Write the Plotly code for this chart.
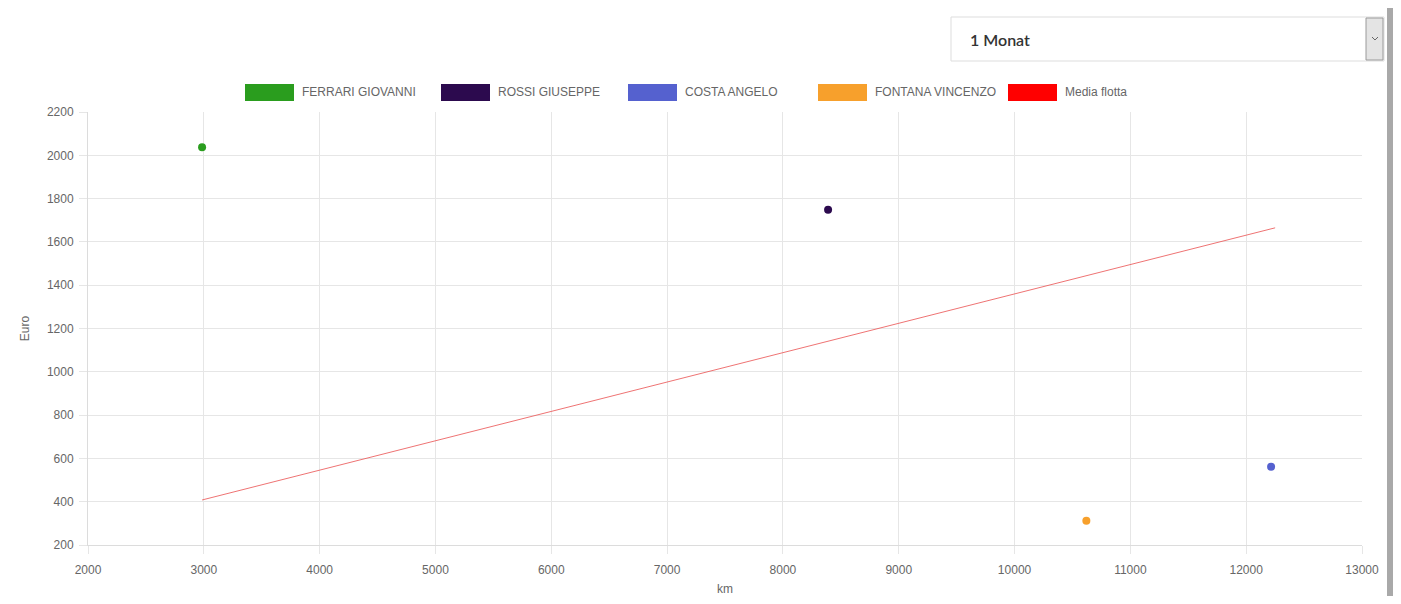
import plotly.graph_objects as go

drivers = ["FERRARI GIOVANNI", "ROSSI GIUSEPPE", "COSTA ANGELO", "FONTANA VINCENZO"]
driver_km = [2985, 8390, 12215, 10620]
driver_euro = [2037, 1748, 561, 312]
driver_colors = ["#2a9d1e", "#2c0a4e", "#5561cf", "#f7a02c"]

fleet_label = "Media flotta"
fleet_km = [2985, 12250]
fleet_euro = [408, 1665]
fleet_color = "#ff0000"

x_ticks = list(range(2000, 13001, 1000))
y_ticks = list(range(200, 2201, 200))

grid = "#e6e6e6"
text_col = "#666666"
font_family = "Liberation Sans, Arial, sans-serif"

fig = go.Figure()

# average fleet line
fig.add_trace(go.Scatter(
    x=fleet_km, y=fleet_euro, mode="lines", name=fleet_label,
    line=dict(color="rgba(235,90,90,0.85)", width=1), showlegend=False,
    hoverinfo="skip",
))

for name, km, eur, col in zip(drivers, driver_km, driver_euro, driver_colors):
    fig.add_trace(go.Scatter(
        x=[km], y=[eur], mode="markers", name=name,
        marker=dict(color=col, size=8), showlegend=False,
    ))

# page has an 8px body margin, so work in page pixels and shift by OFF
OFF = 8
W, H = 1401 - OFF, 604 - 2 * OFF
L, T = 88 - OFF, 112 - OFF
R = W - (1362 - OFF)
B = H - (545 - OFF)
pw, ph = W - L - R, H - T - B

def px_x(p):
    return (p - OFF - L) / pw

def px_y(p):
    return (H - B - (p - OFF)) / ph

# chart.js style legend (wide colour boxes)
legend_names = drivers + [fleet_label]
legend_colors = driver_colors + [fleet_color]
box_left = [245, 441, 628, 818, 1008]

shapes = []
annotations = []
for name, col, bx in zip(legend_names, legend_colors, box_left):
    shapes.append(dict(
        type="rect", xref="paper", yref="paper",
        x0=px_x(bx), x1=px_x(bx + 49), y0=px_y(101), y1=px_y(84),
        fillcolor=col, line=dict(width=0),
    ))
    annotations.append(dict(
        text=name, xref="paper", yref="paper", x=px_x(bx + 55), y=px_y(92.5),
        xanchor="left", yanchor="middle", showarrow=False,
        font=dict(family=font_family, size=12, color=text_col),
    ))

# period selector box
shapes.append(dict(
    type="rect", xref="paper", yref="paper",
    x0=px_x(951), x1=px_x(1384), y0=px_y(61), y1=px_y(17),
    fillcolor="white", line=dict(color="#dddddd", width=1),
))
shapes.append(dict(
    type="rect", xref="paper", yref="paper",
    x0=px_x(1366), x1=px_x(1383), y0=px_y(60), y1=px_y(18),
    fillcolor="#e4e4e4", line=dict(color="#9a9a9a", width=1),
))
shapes.append(dict(
    type="path", xref="paper", yref="paper",
    path="M {:.5f} {:.5f} L {:.5f} {:.5f} L {:.5f} {:.5f}".format(
        px_x(1372), px_y(37), px_x(1375), px_y(40), px_x(1378), px_y(37)),
    line=dict(color="#666666", width=1),
))
annotations.append(dict(
    text="1 Monat", xref="paper", yref="paper", x=px_x(968), y=px_y(40),
    xanchor="left", yanchor="middle", showarrow=False,
    font=dict(family="Lato, sans-serif", size=16, color="#333333", weight=600),
))
# right scrollbar (the page area past ~1393px is not drawable)
shapes.append(dict(
    type="rect", xref="paper", yref="paper",
    x0=px_x(1387), x1=px_x(1393), y0=px_y(596), y1=px_y(8),
    fillcolor="#a9a9a9", line=dict(width=0),
))

fig.update_layout(
    width=W, height=H,
    margin=dict(l=L, r=R, t=T, b=B),
    paper_bgcolor="white", plot_bgcolor="white",
    font=dict(family=font_family, size=12, color=text_col),
    shapes=shapes, annotations=annotations,
    showlegend=False,
)
fig.update_xaxes(
    range=[2000, 13000], tickvals=x_ticks, tickformat="d",
    showgrid=True, gridcolor=grid, automargin=False,
    zeroline=False, showline=True, linecolor="#dcdcdc",
    ticks="outside", ticklen=8, tickcolor=grid, ticklabelstandoff=6,
    title=dict(text="km", standoff=17, font=dict(size=12, color=text_col)),
)
fig.update_yaxes(
    range=[200, 2200], tickvals=y_ticks, tickformat="d",
    showgrid=True, gridcolor=grid, automargin=False,
    zeroline=False, showline=True, linecolor="#dcdcdc",
    ticks="outside", ticklen=8, tickcolor=grid, ticklabelstandoff=3,
    title=dict(text="Euro", standoff=14, font=dict(size=12, color=text_col)),
)

fig.write_html("out.html")
